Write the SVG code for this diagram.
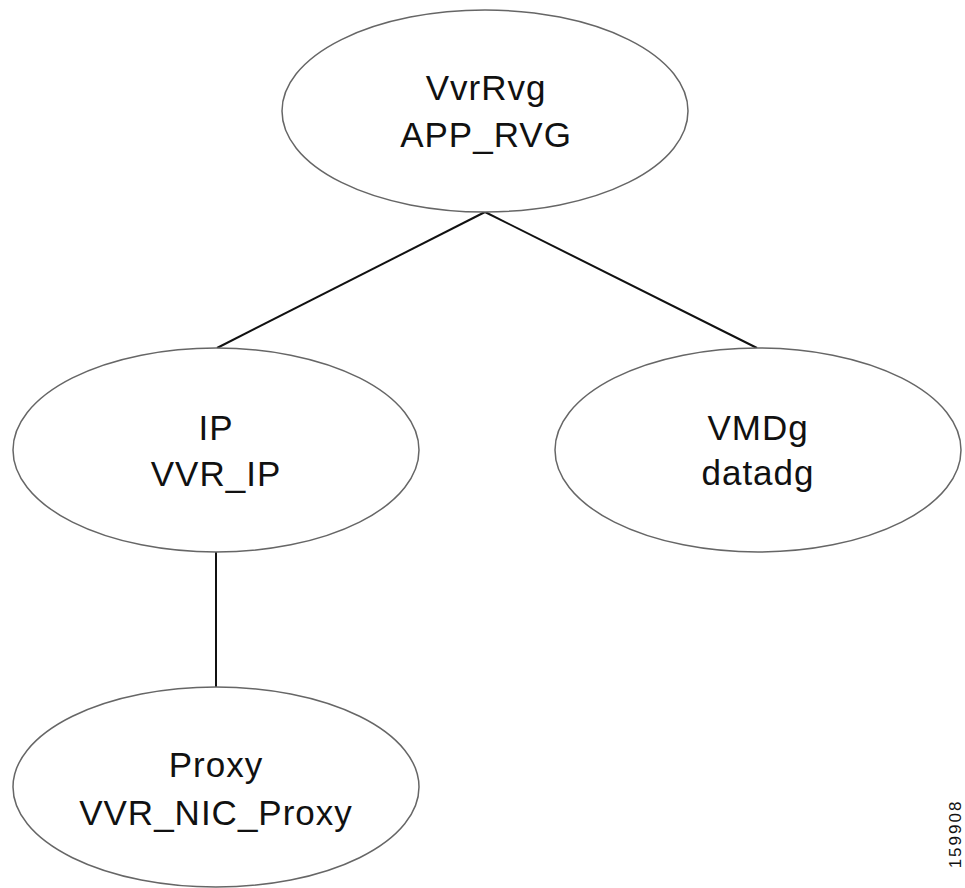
<svg xmlns="http://www.w3.org/2000/svg" width="965" height="888" viewBox="0 0 965 888">
<style>
.node ellipse{fill:#fff;stroke:#666;stroke-width:1.5}
.node text{font-family:"Liberation Sans",Arial,sans-serif;font-size:35px;fill:#111;text-anchor:middle;letter-spacing:1px}
.edges line{stroke:#111;stroke-width:2}
.tag{font-family:"Liberation Sans",Arial,sans-serif;font-size:17px;fill:#111;text-anchor:middle;letter-spacing:2px}
</style>
<rect width="965" height="888" fill="#fff"/>
<g class="edges" id="connectors">
<line x1="485" y1="212" x2="217" y2="348"/>
<line x1="485" y1="212" x2="757" y2="348"/>
<line x1="216" y1="552" x2="216" y2="687"/>
</g>
<g class="node" id="node-vvrrvg">
<ellipse cx="485" cy="111" rx="203" ry="101"/>
<text x="486" y="100">VvrRvg</text>
<text x="486" y="147">APP_RVG</text>
</g>
<g class="node" id="node-ip">
<ellipse cx="216" cy="450" rx="203" ry="102"/>
<text x="216" y="440">IP</text>
<text x="216" y="486">VVR_IP</text>
</g>
<g class="node" id="node-vmdg">
<ellipse cx="758" cy="450" rx="203" ry="102"/>
<text x="758" y="440">VMDg</text>
<text x="758" y="485">datadg</text>
</g>
<g class="node" id="node-proxy">
<ellipse cx="216" cy="787" rx="203" ry="100"/>
<text x="216" y="777">Proxy</text>
<text x="216" y="825">VVR_NIC_Proxy</text>
</g>
<text class="tag" transform="translate(961,834) rotate(-90)">159908</text>
</svg>
